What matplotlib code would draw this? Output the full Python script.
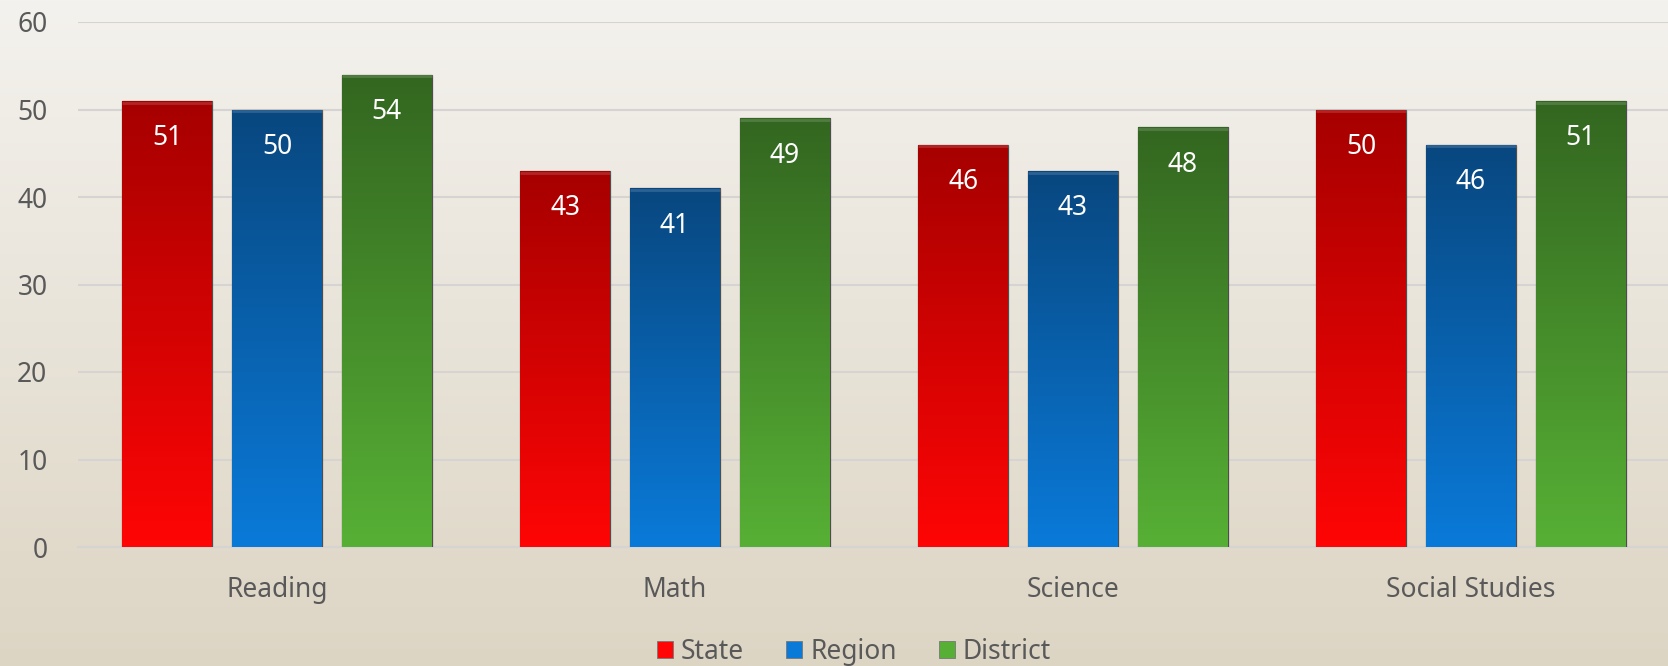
import numpy as np
import matplotlib.pyplot as plt
from matplotlib.colors import LinearSegmentedColormap
from matplotlib.patches import Patch

subjects = ['Reading', 'Math', 'Science', 'Social Studies']
state = [51, 43, 46, 50]
region = [50, 41, 43, 46]
district = [54, 49, 48, 51]

series = [
    ('State', state, '#a60000', '#ff0505'),
    ('Region', region, '#08477f', '#0a7ad9'),
    ('District', district, '#336620', '#57b035'),
]

plt.rcParams['font.family'] = ['Noto Sans', 'DejaVu Sans']

fig = plt.figure(figsize=(16.68, 6.66), dpi=100)

# page background: light at the top, beige towards the bottom
bg = fig.add_axes([0, 0, 1, 1], zorder=-10)
grad = np.linspace(0, 1, 256).reshape(-1, 1)
bg_cmap = LinearSegmentedColormap.from_list('bg', ['#f4f2ee', '#ddd5c4'])
bg.imshow(grad, aspect='auto', cmap=bg_cmap, extent=[0, 1, 0, 1], origin='upper')
bg.axis('off')

ax = fig.add_axes([78 / 1668, 1 - 547 / 666, 1592 / 1668, 525 / 666])
ax.patch.set_alpha(0)

x = np.arange(len(subjects))
width = 0.226
step = 0.276
offsets = [-step, 0, step]

for (name, vals, top, bottom), off in zip(series, offsets):
    bars = ax.bar(x + off, vals, width, color=bottom, edgecolor='#4d4d4d',
                  linewidth=0.9, zorder=3)
    cmap = LinearSegmentedColormap.from_list(name, [top, bottom])
    for b, v in zip(bars, vals):
        x0 = b.get_x()
        x1 = x0 + b.get_width()
        im = ax.imshow(grad, aspect='auto', cmap=cmap, origin='upper',
                       extent=[x0, x1, 0, v], zorder=3.5)
        im.set_clip_path(b)
        # faint bevel on the bar top
        ax.plot([x0, x1], [v - 0.2, v - 0.2], color='white', alpha=0.15,
                lw=2, zorder=4, solid_capstyle='butt')
        # soft shadow under the bar
        ax.plot([x0, x1], [-0.15, -0.15], color='#555555', alpha=0.6,
                lw=2, zorder=2, solid_capstyle='butt')
        ax.annotate(str(v), (x0 + b.get_width() / 2, v), xytext=(0, -27),
                    textcoords='offset points', ha='center', va='center',
                    color='white', fontsize=19, zorder=5)

ax.set_xlim(-0.5, len(subjects) - 0.5)
ax.set_ylim(0, 60)
ax.set_yticks(range(0, 61, 10))
ax.set_xticks(x)
ax.set_xticklabels(subjects)
ax.tick_params(axis='both', length=0, labelsize=19, labelcolor='#595959')
ax.tick_params(axis='y', pad=22)
ax.tick_params(axis='x', pad=21)
ax.grid(axis='y', color='#d6d4d2', linewidth=1.5, zorder=0)
for s in ['top', 'right', 'left']:
    ax.spines[s].set_visible(False)
ax.spines['bottom'].set_color('#d6d4d2')
ax.spines['bottom'].set_linewidth(1.5)

handles = [Patch(facecolor=c, edgecolor='#777777', linewidth=0.6, label=n)
           for n, _, _, c in series]
fig.legend(handles=handles, loc='center', bbox_to_anchor=(0.512, 1 - 652 / 666),
           ncol=3, frameon=False, fontsize=19, labelcolor='#595959',
           handlelength=0.6, handleheight=0.6, handletextpad=0.3,
           columnspacing=1.6)

fig.savefig('out.png', dpi=100)
